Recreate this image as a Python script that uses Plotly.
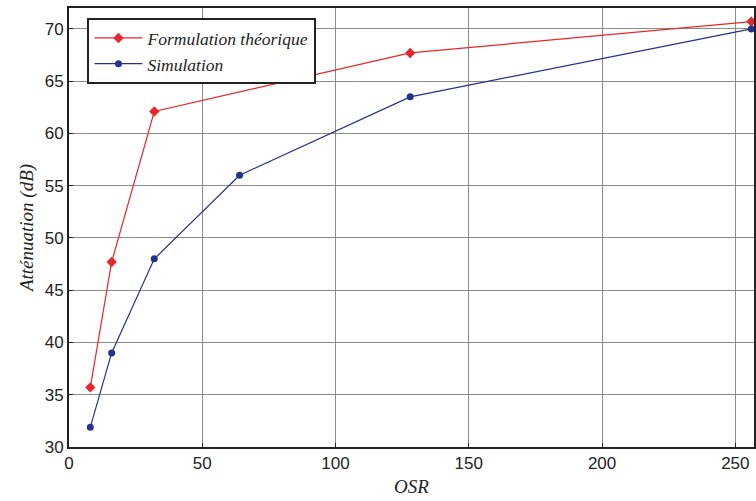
import plotly.graph_objects as go

osr_theo = [8, 16, 32, 128, 256]
att_theo = [35.7, 47.7, 62.1, 67.7, 70.7]
osr_sim = [8, 16, 32, 64, 128, 256]
att_sim = [31.9, 39.0, 48.0, 56.0, 63.5, 70.0]

fig = go.Figure()
fig.add_trace(go.Scatter(x=osr_theo, y=att_theo, mode="lines+markers",
                         name="<i>Formulation théorique</i>", cliponaxis=False,
                         line=dict(color="#e8262b", width=1.2),
                         marker=dict(symbol="diamond", size=8, color="#e8262b")))
fig.add_trace(go.Scatter(x=osr_sim, y=att_sim, mode="lines+markers",
                         name="<i>Simulation</i>", cliponaxis=False,
                         line=dict(color="#27318b", width=1.2),
                         marker=dict(symbol="circle", size=7, color="#27318b")))

axis_common = dict(showline=True, linecolor="#222", linewidth=2, mirror=True,
                   ticks="inside", ticklen=4, tickcolor="#222",
                   showgrid=True, gridcolor="#8a8a8a", gridwidth=1,
                   zeroline=False, automargin=False,
                   tickfont=dict(family="Liberation Sans, Arial", size=17, color="#222"))

fig.update_xaxes(range=[0, 257], tickvals=[0, 50, 100, 150, 200, 250],
                 title=dict(text="<i>OSR</i>", font=dict(family="Liberation Serif", size=19, color="#222"),
                            standoff=7),
                 **axis_common)
fig.update_yaxes(range=[30, 72], tickvals=[30, 35, 40, 45, 50, 55, 60, 65, 70],
                 title=dict(text="<i>Atténuation (dB)</i>", font=dict(family="Liberation Serif", size=19, color="#222"),
                            standoff=6),
                 **axis_common)

fig.update_layout(
    width=756, height=501,
    margin=dict(l=69, r=2, t=8, b=54),
    plot_bgcolor="white", paper_bgcolor="white",
    legend=dict(x=0.027, y=0.977, xanchor="left", yanchor="top",
                bgcolor="white", bordercolor="#222", borderwidth=2,
                font=dict(family="Liberation Serif", size=17.5, color="#222"),
                itemwidth=48, tracegroupgap=0),
)
fig.update_layout(font=dict(family="Liberation Serif"))
fig.write_html("out.html", config={"displayModeBar": False},
               post_script="document.body.style.margin='0';")
